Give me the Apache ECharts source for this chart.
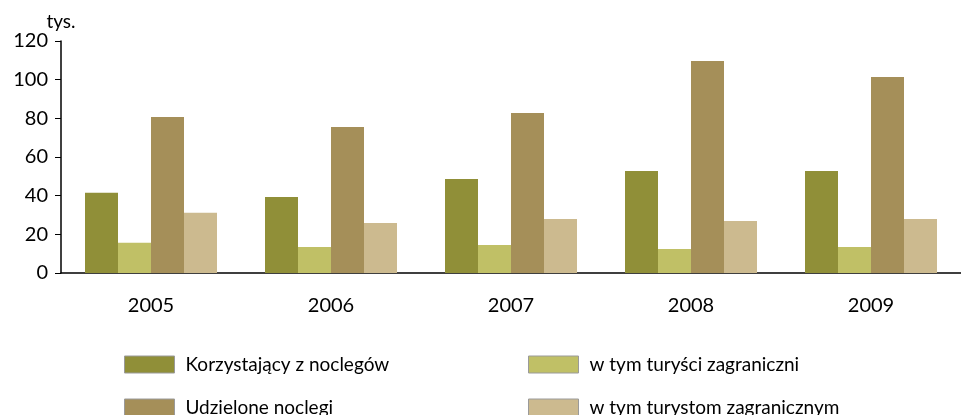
<!DOCTYPE html>
<html>
<head>
<meta charset="utf-8">
<script src="https://cdn.jsdelivr.net/npm/echarts@6/dist/echarts.min.js"></script>
<style>
html,body{margin:0;padding:0;background:#fff;}
#chart{width:961px;height:415px;}
</style>
</head>
<body>
<div id="chart"></div>
<script>
var categories = ['2005', '2006', '2007', '2008', '2009'];
var korzystajacy = [41.5, 39.3, 48.6, 52.8, 52.8];
var turysciZagr = [15.7, 13.4, 14.5, 12.4, 13.4];
var udzielone = [80.7, 75.5, 82.8, 109.7, 101.4];
var turystomZagr = [31.2, 25.9, 27.9, 26.9, 27.9];
var yTicks = [0, 20, 40, 60, 80, 100, 120];

var FONT = 'Lato, "Open Sans", sans-serif';
var names = ['Korzystający z noclegów', 'w tym turyści zagraniczni', 'Udzielone noclegi', 'w tym turystom zagranicznym'];
var colors = ['#908F38', '#C0C066', '#A58F59', '#CCBA8F'];
var values = [korzystajacy, turysciZagr, udzielone, turystomZagr];

var chart = echarts.init(document.getElementById('chart'));
var legendCommon = {
  orient: 'vertical',
  top: 355,
  height: 120,
  width: 380,
  padding: 0,
  itemWidth: 50,
  itemHeight: 17,
  itemGap: 24,
  icon: 'rect',
  selectedMode: false,
  itemStyle: { borderColor: '#9a9a9a', borderWidth: 1 },
  textStyle: { fontFamily: FONT, fontSize: 19, lineHeight: 17, color: '#000', padding: [0, 0, 0, 6] }
};
chart.setOption({
  animation: false,
  textStyle: { fontFamily: FONT },
  grid: { left: 61, width: 905, top: 41, bottom: 142, containLabel: false },
  legend: [
    Object.assign({}, legendCommon, { left: 124, data: [names[0], names[2]] }),
    Object.assign({}, legendCommon, { left: 528, data: [names[1], names[3]] })
  ],
  xAxis: {
    type: 'category',
    data: categories,
    boundaryGap: true,
    axisLine: { lineStyle: { color: '#000', width: 1.5 } },
    axisTick: { show: false },
    axisLabel: { fontFamily: FONT, fontSize: 20, color: '#000', margin: 23 }
  },
  yAxis: {
    type: 'value',
    min: yTicks[0],
    max: yTicks[yTicks.length - 1],
    interval: 20,
    name: 'tys.',
    nameLocation: 'end',
    nameGap: 8,
    nameTextStyle: { fontFamily: FONT, fontSize: 19, color: '#000' },
    splitLine: { show: false },
    axisLine: { show: true, lineStyle: { color: '#000', width: 1.5 } },
    axisTick: { show: true, inside: false, length: 6, lineStyle: { color: '#000' } },
    axisLabel: { fontFamily: FONT, fontSize: 20, color: '#000', margin: 13 }
  },
  series: values.map(function (v, i) {
    return {
      name: names[i],
      type: 'bar',
      data: v,
      barWidth: 33,
      barGap: '0%',
      itemStyle: { color: colors[i] }
    };
  })
});
</script>
</body>
</html>
